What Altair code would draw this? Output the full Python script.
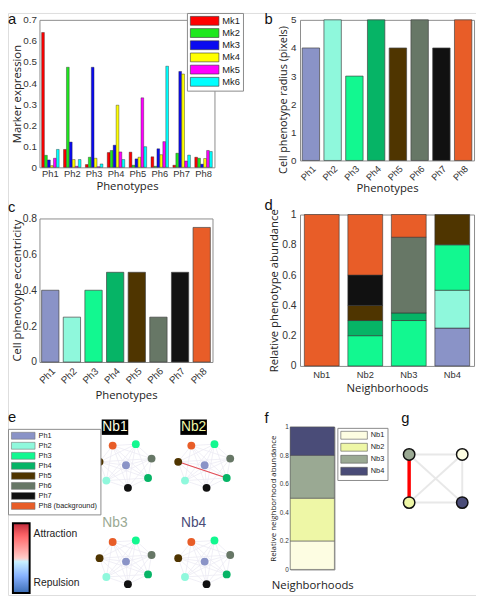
import math
import altair as alt
import pandas as pd

# ---------------- data ----------------
phenotypes = ["Ph1", "Ph2", "Ph3", "Ph4", "Ph5", "Ph6", "Ph7", "Ph8"]
ph_colors = ["#8a93c7", "#8ff8dc", "#12f890", "#06b466", "#4f3500", "#677766", "#111111", "#e85d28"]

markers = ["Mk1", "Mk2", "Mk3", "Mk4", "Mk5", "Mk6"]
mk_colors = ["#ff0000", "#1ee81e", "#0a0af0", "#ffff00", "#ff00ff", "#00ffff"]
expr_mk1 = [0.64, 0.085, 0.013, 0.07, 0.072, 0.05, 0.01, 0.048]
expr_mk2 = [0.057, 0.475, 0.048, 0.08, 0.01, 0.005, 0.067, 0.043]
expr_mk3 = [0.035, 0.12, 0.475, 0.105, 0.04, 0.088, 0.455, 0.015]
expr_mk4 = [0.008, 0.037, 0.043, 0.295, 0.048, 0.06, 0.443, 0.042]
expr_mk5 = [0.043, 0.005, 0.003, 0.073, 0.33, 0.122, 0.03, 0.08]
expr_mk6 = [0.085, 0.037, 0.016, 0.037, 0.098, 0.48, 0.058, 0.075]
expr = [expr_mk1, expr_mk2, expr_mk3, expr_mk4, expr_mk5, expr_mk6]

radius = [4, 5, 3, 5, 4, 5, 4, 5]
eccentricity = [0.4, 0.25, 0.4, 0.5, 0.5, 0.25, 0.5, 0.75]

neighborhoods = ["Nb1", "Nb2", "Nb3", "Nb4"]
nb_colors = ["#fdfde2", "#eef7a6", "#9aa993", "#4a4c78"]
comp_nb1 = [0, 0, 0, 0, 0, 0, 0, 1.0]
comp_nb2 = [0, 0, 0.2, 0.1, 0.1, 0, 0.2, 0.4]
comp_nb3 = [0, 0, 0.3, 0.05, 0, 0.5, 0, 0.15]
comp_nb4 = [0.25, 0.25, 0.3, 0, 0.2, 0, 0, 0]
composition = [comp_nb1, comp_nb2, comp_nb3, comp_nb4]
nb_abundance = [0.2, 0.3, 0.3, 0.2]
nb_label_bg = [True, True, False, False]

# interactions: (neighborhood, phenotype A, phenotype B, weight)
ph_interactions = [("Nb2", "Ph5", "Ph4", 0.8)]
# neighborhood graph (g): strong attraction edge
nb_interactions = [("Nb3", "Nb2")]

# graph layout (e): ring order around the central phenotype
ring_order = ["Ph6", "Ph3", "Ph8", "Ph5", "Ph2", "Ph7", "Ph4"]
center_ph = "Ph1"
grid_pos = {"Nb1": (0, 0), "Nb2": (1, 0), "Nb3": (0, 1), "Nb4": (1, 1)}
g_pos = {"Nb3": (0, 0), "Nb1": (1, 0), "Nb2": (0, 1), "Nb4": (1, 1)}

# ---------------- layout ----------------
W, H = 476, 592
TICKF = "Liberation Sans"
TITLEF = "Open Sans"
AX = "#8c8c8c"


def ax_common(**kw):
    base = dict(domainColor=AX, domainWidth=1, ticks=False, grid=False,
                labelFont=TICKF, labelColor="#333333", titleFont=TITLEF,
                titleColor="#222222", titleFontWeight="normal")
    base.update(kw)
    return alt.Axis(**base)


def frame(xrange_, yrange_, top, right):
    d = pd.DataFrame({"fx": [0], "fy": [0]})
    return alt.Chart(d).mark_point(opacity=0).encode(
        x=alt.X("fx:Q", scale=alt.Scale(domain=[0, 1], range=xrange_, nice=False, zero=False),
                axis=ax_common(orient="top", offset=-top, labels=False, title=None)),
        y=alt.Y("fy:Q", scale=alt.Scale(domain=[0, 1], range=yrange_, nice=False, zero=False),
                axis=ax_common(orient="right", offset=right - W, labels=False, title=None)),
    )


def letter(txt, x, y):
    return alt.Chart(pd.DataFrame({"t": [txt]})).mark_text(
        font=TICKF, fontSize=15, align="left", baseline="middle", color="#111"
    ).encode(x=alt.value(x), y=alt.value(y), text="t:N")


def rect_legend(x, y, sym_w, sym_h, font, row_pad, **kw):
    units = sym_w / (sym_h / 2.0)
    path = "M-1,-1H%.3fV1H-1Z" % (units - 1)
    return alt.Legend(orient="none", legendX=x, legendY=y, title=None,
                      symbolType=path, symbolSize=sym_h * sym_h,
                      symbolStrokeWidth=0.6, symbolOpacity=1,
                      labelOffset=sym_w - sym_h + 3, labelFont=TICKF, labelFontSize=font,
                      labelColor="#222", padding=3, rowPadding=row_pad,
                      strokeColor="#8a8a8a", fillColor="white", **kw)


layers = []

# ---- panel a ----
ax0, ax1, ay0, ay1 = 32, 210, 157, 7
df_a = pd.DataFrame([{"Phenotype": p, "Marker": m, "Expression": expr[j][i]}
                     for j, m in enumerate(markers) for i, p in enumerate(phenotypes)])
layers.append(alt.Chart(df_a).mark_bar(stroke="#222", strokeWidth=0.4).encode(
    x=alt.X("Phenotype:N", sort=phenotypes,
            scale=alt.Scale(domain=phenotypes, range=[ax0, ax1], paddingInner=0.2, paddingOuter=0.1),
            axis=ax_common(orient="bottom", offset=ay0 - H, labelAngle=0, labelFontSize=9.5,
                           labelPadding=1, title="Phenotypes", titleFontSize=11.5, titlePadding=3)),
    xOffset=alt.XOffset("Marker:N", sort=markers, scale=alt.Scale(domain=markers, paddingInner=0.08)),
    y=alt.Y("Expression:Q", scale=alt.Scale(domain=[0, 0.7], range=[ay0, ay1], nice=False),
            axis=ax_common(orient="left", offset=-ax0, values=[0, 0.1, 0.2, 0.3, 0.4, 0.5, 0.6, 0.7],
                           format=".1~f", labelFontSize=10, labelPadding=3,
                           title="Marker expression", titleFontSize=11.5, titlePadding=0)),
    color=alt.Color("Marker:N", sort=markers, scale=alt.Scale(domain=markers, range=mk_colors),
                    legend=rect_legend(182, 0, 29, 9, 9.5, 0.4, symbolStrokeColor="#333")),
))
layers.append(frame([ax0, ax1], [ay0, ay1], ay1, ax1))

# ---- panel b ----
bx0, bx1, by0, by1 = 297, 474, 150, 7
df_b = pd.DataFrame({"Phenotype": phenotypes, "Radius": radius})
layers.append(alt.Chart(df_b).mark_bar(stroke="#444", strokeWidth=0.7).encode(
    x=alt.X("Phenotype:N", sort=phenotypes,
            scale=alt.Scale(domain=phenotypes, range=[bx0, bx1], paddingInner=0.2, paddingOuter=0.1),
            axis=ax_common(orient="bottom", offset=by0 - H, labelAngle=315, labelFontSize=9.5,
                           labelPadding=3, title="Phenotypes", titleFontSize=11.5, titlePadding=1)),
    y=alt.Y("Radius:Q", scale=alt.Scale(domain=[0, 5], range=[by0, by1], nice=False),
            axis=ax_common(orient="left", offset=-bx0, values=[0, 1, 2, 3, 4, 5], format="d",
                           labelFontSize=10, labelPadding=4, titleY=88,
                           title="Cell phenotype radius (pixels)", titleFontSize=11, titlePadding=2)),
    color=alt.Color("Phenotype:N", scale=alt.Scale(domain=phenotypes, range=ph_colors), legend=None),
))
layers.append(frame([bx0, bx1], [by0, by1], by1, bx1))

# ---- panel c ----
cx0, cx1, cy0, cy1 = 32, 208, 355, 209
df_c = pd.DataFrame({"Phenotype": phenotypes, "Eccentricity": eccentricity})
layers.append(alt.Chart(df_c).mark_bar(stroke="#444", strokeWidth=0.7).encode(
    x=alt.X("Phenotype:N", sort=phenotypes,
            scale=alt.Scale(domain=phenotypes, range=[cx0, cx1], paddingInner=0.2, paddingOuter=0.1),
            axis=ax_common(orient="bottom", offset=cy0 - H, labelAngle=315, labelFontSize=10,
                           labelPadding=4, title="Phenotypes", titleFontSize=11.5, titlePadding=4)),
    y=alt.Y("Eccentricity:Q", scale=alt.Scale(domain=[0, 0.8], range=[cy0, cy1], nice=False),
            axis=ax_common(orient="left", offset=-cx0, values=[0, 0.2, 0.4, 0.6, 0.8], format=".1~f",
                           labelFontSize=10.5, labelPadding=3,
                           title="Cell phenotype eccentricity", titleFontSize=11.5, titlePadding=0)),
    color=alt.Color("Phenotype:N", scale=alt.Scale(domain=phenotypes, range=ph_colors), legend=None),
))
layers.append(frame([cx0, cx1], [cy0, cy1], cy1, cx1))

# ---- panel d ----
dx0, dx1, dy0, dy1 = 297, 474, 359, 205
df_d = pd.DataFrame([{"Neighborhood": nb, "Phenotype": p, "idx": i, "Fraction": composition[k][i]}
                     for k, nb in enumerate(neighborhoods) for i, p in enumerate(phenotypes)
                     if composition[k][i] > 0])
layers.append(alt.Chart(df_d).mark_bar(stroke="#333", strokeWidth=0.6).encode(
    x=alt.X("Neighborhood:N", sort=neighborhoods,
            scale=alt.Scale(domain=neighborhoods, range=[dx0, dx1], paddingInner=0.2, paddingOuter=0.1),
            axis=ax_common(orient="bottom", offset=dy0 - H, labelAngle=0, labelFontSize=9.5,
                           labelPadding=4, title="Neighborhoods", titleFontSize=11.5, titlePadding=4)),
    y=alt.Y("Fraction:Q", stack="zero", scale=alt.Scale(domain=[0, 1], range=[dy0, dy1], nice=False),
            axis=ax_common(orient="left", offset=-dx0, values=[0, 0.2, 0.4, 0.6, 0.8, 1], format=".1~f",
                           labelFontSize=10.5, labelPadding=4,
                           title="Relative phenotype abundance", titleFontSize=11.5, titlePadding=2)),
    color=alt.Color("Phenotype:N", scale=alt.Scale(domain=phenotypes, range=ph_colors), legend=None),
    order=alt.Order("idx:Q", sort="ascending"),
))
layers.append(frame([dx0, dx1], [dy0, dy1], dy1, dx1))

# ---- panel e (networks) ----
ex_scale = dict(domain=[-0.5, 1.5], range=[80, 240], nice=False, zero=False)
ey_scale = dict(domain=[-0.5, 1.5], range=[411, 607], nice=False, zero=False)
RX, RY, A0 = 0.34, 0.235, 17.0


def node_xy(nb, ph):
    gx, gy = grid_pos[nb]
    if ph == center_ph:
        return gx, gy
    k = ring_order.index(ph)
    ang = math.radians(A0 + k * 360.0 / 7)
    return gx + RX * math.cos(ang), gy - RY * math.sin(ang)


nodes = []
for nb in neighborhoods:
    for p in phenotypes:
        x, y = node_xy(nb, p)
        nodes.append({"nb": nb, "Phenotype": p, "x": x, "y": y})
df_nodes = pd.DataFrame(nodes)

edges = []
for nb in neighborhoods:
    for i in range(len(phenotypes)):
        for j in range(i + 1, len(phenotypes)):
            x1, y1 = node_xy(nb, phenotypes[i])
            x2, y2 = node_xy(nb, phenotypes[j])
            edges.append({"x": x1, "y": y1, "x2": x2, "y2": y2})
df_edges = pd.DataFrame(edges)

wedges = []
for nb, pa, pb, w in ph_interactions:
    x1, y1 = node_xy(nb, pa)
    x2, y2 = node_xy(nb, pb)
    wedges.append({"x": x1, "y": y1, "x2": x2, "y2": y2, "weight": w})
df_wedges = pd.DataFrame(wedges)


def exy(xf="x:Q", yf="y:Q"):
    return dict(
        x=alt.X(xf, scale=alt.Scale(**ex_scale), axis=None),
        y=alt.Y(yf, scale=alt.Scale(**ey_scale), axis=None),
    )


layers.append(alt.Chart(df_edges).mark_rule(color="#ecebf3", strokeWidth=0.8).encode(
    x2="x2:Q", y2="y2:Q", **exy()))
layers.append(alt.Chart(df_wedges).mark_rule(strokeWidth=1.2).encode(
    x2="x2:Q", y2="y2:Q",
    color=alt.Color("weight:Q", scale=alt.Scale(domain=[-1, 0, 1], range=["#3a6db5", "#ffffff", "#c0283a"]),
                    legend=alt.Legend(orient="none", legendX=5, legendY=519, title=None, direction="vertical",
                                      gradientLength=71, gradientThickness=17, gradientStrokeColor="#000",
                                      gradientStrokeWidth=2, values=[-0.7, 0.7],
                                      labelExpr="datum.value > 0 ? 'Attraction' : 'Repulsion'",
                                      labelFont=TICKF, labelFontSize=10.5, labelColor="#222", labelOffset=4)),
    **exy()))
layers.append(alt.Chart(df_nodes).mark_circle(size=64, opacity=1).encode(
    color=alt.Color("Phenotype:N", scale=alt.Scale(domain=phenotypes, range=ph_colors),
                    legend=rect_legend(0, 423, 24, 7, 7.5, 0.2, symbolStrokeColor="#777",
                                       labelExpr="datum.label == 'Ph8' ? 'Ph8 (background)' : datum.label")),
    **exy()))

labels = []
for k, nb in enumerate(neighborhoods):
    gx, gy = grid_pos[nb]
    labels.append({"nb": nb, "x": gx - 0.14, "y": gy - 0.395, "col": nb_colors[k], "bg": nb_label_bg[k]})
df_lab = pd.DataFrame(labels)
layers.append(alt.Chart(df_lab[df_lab["bg"]]).mark_point(
    shape="M-1,-0.58H1V0.58H-1Z", size=729, filled=True, color="#000", opacity=1).encode(**exy()))
layers.append(alt.Chart(df_lab).mark_text(font=TICKF, fontSize=14, baseline="middle").encode(
    text="nb:N", color=alt.Color("col:N", scale=None), **exy()))

# ---- panel f ----
fx0, fx1, fy0, fy1 = 287, 332, 566, 421
df_f = pd.DataFrame({"grp": ["all"] * 4, "Neighborhood": neighborhoods, "idx": [0, 1, 2, 3],
                     "Abundance": nb_abundance})
layers.append(alt.Chart(df_f).mark_bar(stroke="#555", strokeWidth=0.6).encode(
    x=alt.X("grp:N", scale=alt.Scale(domain=["all"], range=[fx0, fx1], paddingInner=0, paddingOuter=0),
            axis=ax_common(orient="bottom", offset=fy0 - H, labels=False, title="Neighborhoods",
                           titleFontSize=11.5, titlePadding=10)),
    y=alt.Y("Abundance:Q", stack="zero", scale=alt.Scale(domain=[0, 1], range=[fy0, fy1], nice=False),
            axis=ax_common(orient="left", offset=-fx0, values=[0, 0.2, 0.4, 0.6, 0.8, 1], format=".1~f",
                           labelFontSize=6.5, labelPadding=2,
                           title="Relative neighborhood abundance", titleFontSize=8, titlePadding=2)),
    color=alt.Color("Neighborhood:N", scale=alt.Scale(domain=neighborhoods, range=nb_colors),
                    legend=rect_legend(335, 422, 27, 8, 7.5, 1.2, symbolStrokeColor="#555")),
    order=alt.Order("idx:Q", sort="ascending"),
))
layers.append(frame([fx0, fx1], [fy0, fy1], fy1, fx1))

# ---- panel g ----
gx_scale = dict(domain=[0, 1], range=[408, 462], nice=False, zero=False)
gy_scale = dict(domain=[0, 1], range=[449, 498], nice=False, zero=False)


def gxy():
    return dict(
        x=alt.X("x:Q", scale=alt.Scale(**gx_scale), axis=None),
        y=alt.Y("y:Q", scale=alt.Scale(**gy_scale), axis=None),
    )


g_edges = []
for i in range(4):
    for j in range(i + 1, 4):
        a, b = neighborhoods[i], neighborhoods[j]
        g_edges.append({"x": g_pos[a][0], "y": g_pos[a][1], "x2": g_pos[b][0], "y2": g_pos[b][1]})
df_ge = pd.DataFrame(g_edges)
df_gr = pd.DataFrame([{"x": g_pos[a][0], "y": g_pos[a][1], "x2": g_pos[b][0], "y2": g_pos[b][1]}
                      for a, b in nb_interactions])
df_gn = pd.DataFrame([{"Neighborhood": nb, "x": g_pos[nb][0], "y": g_pos[nb][1]} for nb in neighborhoods])
layers.append(alt.Chart(df_ge).mark_rule(color="#e8e8e8", strokeWidth=2).encode(x2="x2:Q", y2="y2:Q", **gxy()))
layers.append(alt.Chart(df_gr).mark_rule(color="#ff0000", strokeWidth=3.5).encode(x2="x2:Q", y2="y2:Q", **gxy()))
layers.append(alt.Chart(df_gn).mark_circle(size=135, opacity=1, stroke="#111", strokeWidth=1.5).encode(
    color=alt.Color("Neighborhood:N", scale=alt.Scale(domain=neighborhoods, range=nb_colors), legend=None),
    **gxy()))

# ---- panel letters ----
for t, x, y in [("a", 0, 6), ("b", 261, 6), ("c", 0, 197), ("d", 261, 195),
                ("e", 0, 411), ("f", 261, 412), ("g", 400, 412)]:
    layers.append(letter(t, x, y))

chart = alt.layer(*layers).resolve_scale(
    x="independent", y="independent", color="independent"
).resolve_axis(x="independent", y="independent").resolve_legend(color="independent").properties(
    width=W, height=H, autosize=alt.AutoSizeParams(type="none"), padding=0
).configure_view(stroke=None).configure(background="white")

chart.save("out.html", embed_options={"renderer": "svg", "actions": False})
